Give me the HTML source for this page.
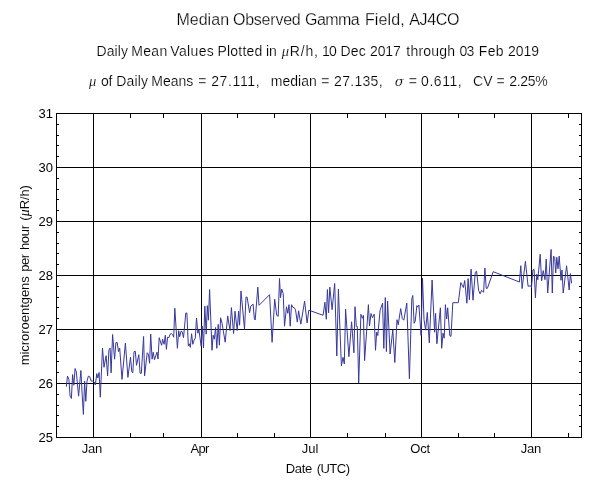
<!DOCTYPE html>
<html lang="en"><head><meta charset="utf-8"><title>Median Observed Gamma Field, AJ4CO</title>
<style>html,body{margin:0;padding:0;background:#fff;overflow:hidden}svg{display:block}text{font-family:"Liberation Sans",Arial,Helvetica,sans-serif;fill:#000;stroke:#fff;paint-order:fill stroke;stroke-width:.15px}text[font-size="16"]{stroke-width:.25px}text[font-size="14"]{stroke-width:.18px}text[font-size="13"]{stroke-width:.05px}text.n{stroke:none}</style>
</head><body>
<svg width="600" height="496" viewBox="0 0 600 496">
<rect x="0" y="0" width="600" height="496" fill="#fff"/>
<g stroke="#000" stroke-width="1" fill="none" shape-rendering="crispEdges">
<line x1="93.5" y1="113.5" x2="93.5" y2="437.5"/>
<line x1="201.5" y1="113.5" x2="201.5" y2="437.5"/>
<line x1="310.5" y1="113.5" x2="310.5" y2="437.5"/>
<line x1="421.5" y1="113.5" x2="421.5" y2="437.5"/>
<line x1="531.5" y1="113.5" x2="531.5" y2="437.5"/>
<line x1="56.5" y1="383.5" x2="581.5" y2="383.5"/>
<line x1="56.5" y1="329.5" x2="581.5" y2="329.5"/>
<line x1="56.5" y1="275.5" x2="581.5" y2="275.5"/>
<line x1="56.5" y1="221.5" x2="581.5" y2="221.5"/>
<line x1="56.5" y1="167.5" x2="581.5" y2="167.5"/>
<rect x="56.5" y="113.5" width="525.0" height="324.0"/>
<line x1="130.5" y1="437.5" x2="130.5" y2="433.0"/>
<line x1="130.5" y1="113.5" x2="130.5" y2="118.0"/>
<line x1="163.5" y1="437.5" x2="163.5" y2="433.0"/>
<line x1="163.5" y1="113.5" x2="163.5" y2="118.0"/>
<line x1="237.5" y1="437.5" x2="237.5" y2="433.0"/>
<line x1="237.5" y1="113.5" x2="237.5" y2="118.0"/>
<line x1="274.5" y1="437.5" x2="274.5" y2="433.0"/>
<line x1="274.5" y1="113.5" x2="274.5" y2="118.0"/>
<line x1="347.5" y1="437.5" x2="347.5" y2="433.0"/>
<line x1="347.5" y1="113.5" x2="347.5" y2="118.0"/>
<line x1="385.5" y1="437.5" x2="385.5" y2="433.0"/>
<line x1="385.5" y1="113.5" x2="385.5" y2="118.0"/>
<line x1="458.5" y1="437.5" x2="458.5" y2="433.0"/>
<line x1="458.5" y1="113.5" x2="458.5" y2="118.0"/>
<line x1="494.5" y1="437.5" x2="494.5" y2="433.0"/>
<line x1="494.5" y1="113.5" x2="494.5" y2="118.0"/>
<line x1="568.5" y1="437.5" x2="568.5" y2="433.0"/>
<line x1="568.5" y1="113.5" x2="568.5" y2="118.0"/>
<line x1="56.5" y1="124.5" x2="59.0" y2="124.5"/>
<line x1="581.5" y1="124.5" x2="579.0" y2="124.5"/>
<line x1="56.5" y1="135.5" x2="59.0" y2="135.5"/>
<line x1="581.5" y1="135.5" x2="579.0" y2="135.5"/>
<line x1="56.5" y1="145.5" x2="59.0" y2="145.5"/>
<line x1="581.5" y1="145.5" x2="579.0" y2="145.5"/>
<line x1="56.5" y1="156.5" x2="59.0" y2="156.5"/>
<line x1="581.5" y1="156.5" x2="579.0" y2="156.5"/>
<line x1="56.5" y1="178.5" x2="59.0" y2="178.5"/>
<line x1="581.5" y1="178.5" x2="579.0" y2="178.5"/>
<line x1="56.5" y1="189.5" x2="59.0" y2="189.5"/>
<line x1="581.5" y1="189.5" x2="579.0" y2="189.5"/>
<line x1="56.5" y1="199.5" x2="59.0" y2="199.5"/>
<line x1="581.5" y1="199.5" x2="579.0" y2="199.5"/>
<line x1="56.5" y1="210.5" x2="59.0" y2="210.5"/>
<line x1="581.5" y1="210.5" x2="579.0" y2="210.5"/>
<line x1="56.5" y1="232.5" x2="59.0" y2="232.5"/>
<line x1="581.5" y1="232.5" x2="579.0" y2="232.5"/>
<line x1="56.5" y1="243.5" x2="59.0" y2="243.5"/>
<line x1="581.5" y1="243.5" x2="579.0" y2="243.5"/>
<line x1="56.5" y1="253.5" x2="59.0" y2="253.5"/>
<line x1="581.5" y1="253.5" x2="579.0" y2="253.5"/>
<line x1="56.5" y1="264.5" x2="59.0" y2="264.5"/>
<line x1="581.5" y1="264.5" x2="579.0" y2="264.5"/>
<line x1="56.5" y1="286.5" x2="59.0" y2="286.5"/>
<line x1="581.5" y1="286.5" x2="579.0" y2="286.5"/>
<line x1="56.5" y1="297.5" x2="59.0" y2="297.5"/>
<line x1="581.5" y1="297.5" x2="579.0" y2="297.5"/>
<line x1="56.5" y1="307.5" x2="59.0" y2="307.5"/>
<line x1="581.5" y1="307.5" x2="579.0" y2="307.5"/>
<line x1="56.5" y1="318.5" x2="59.0" y2="318.5"/>
<line x1="581.5" y1="318.5" x2="579.0" y2="318.5"/>
<line x1="56.5" y1="340.5" x2="59.0" y2="340.5"/>
<line x1="581.5" y1="340.5" x2="579.0" y2="340.5"/>
<line x1="56.5" y1="351.5" x2="59.0" y2="351.5"/>
<line x1="581.5" y1="351.5" x2="579.0" y2="351.5"/>
<line x1="56.5" y1="361.5" x2="59.0" y2="361.5"/>
<line x1="581.5" y1="361.5" x2="579.0" y2="361.5"/>
<line x1="56.5" y1="372.5" x2="59.0" y2="372.5"/>
<line x1="581.5" y1="372.5" x2="579.0" y2="372.5"/>
<line x1="56.5" y1="394.5" x2="59.0" y2="394.5"/>
<line x1="581.5" y1="394.5" x2="579.0" y2="394.5"/>
<line x1="56.5" y1="405.5" x2="59.0" y2="405.5"/>
<line x1="581.5" y1="405.5" x2="579.0" y2="405.5"/>
<line x1="56.5" y1="415.5" x2="59.0" y2="415.5"/>
<line x1="581.5" y1="415.5" x2="579.0" y2="415.5"/>
<line x1="56.5" y1="426.5" x2="59.0" y2="426.5"/>
<line x1="581.5" y1="426.5" x2="579.0" y2="426.5"/>
</g>
<polyline fill="none" stroke="#38389c" stroke-width="1" stroke-linejoin="round" points="66.3,386.7 67.5,376.1 68.9,379.6 70.1,396.2 71.4,398.5 72.6,374.6 73.8,385.2 75.1,368.5 76.3,372.0 78.6,396.2 80.9,370.5 82.2,395.2 83.4,414.4 84.6,381.1 85.8,401.3 87.0,381.0 88.4,376.1 89.7,376.6 91.2,381.1 92.7,381.1 94.3,382.0 95.3,385.0 96.8,373.6 97.8,378.0 99.1,372.5 100.3,397.2 102.5,348.1 104.0,367.3 106.1,355.7 107.6,375.9 108.9,350.1 110.1,348.1 111.1,372.8 112.6,334.5 114.6,359.2 115.9,342.6 117.2,342.6 118.5,351.7 119.7,348.1 122.0,379.4 125.4,343.1 127.9,377.4 130.5,357.2 131.8,371.8 132.8,372.8 134.0,351.7 135.3,351.2 136.5,365.3 138.8,354.7 140.1,373.3 141.3,373.3 143.6,336.5 144.6,375.9 147.2,352.7 148.4,354.2 149.6,363.3 150.7,334.0 152.1,359.2 153.2,352.2 154.5,359.7 157.0,352.2 158.0,359.0 159.2,337.7 161.6,345.3 162.6,339.2 164.1,344.3 165.3,335.2 166.4,349.3 167.6,337.2 168.9,337.7 170.1,334.2 171.3,333.7 172.6,334.7 173.7,337.2 174.8,308.2 177.4,348.3 178.7,330.7 179.7,336.7 181.0,331.2 182.2,331.7 183.5,337.7 185.8,313.0 186.9,313.0 188.3,345.8 189.3,343.8 190.3,347.3 191.6,333.7 192.8,344.3 194.1,340.2 195.3,338.2 196.5,318.0 197.9,333.2 198.9,329.7 201.2,346.3 202.2,326.0 203.5,347.8 204.8,306.2 206.2,334.2 207.3,305.7 208.4,320.2 209.6,289.6 212.0,350.3 213.1,335.2 214.3,339.2 215.6,327.5 216.8,348.3 218.2,324.4 219.4,345.2 220.6,317.8 222.0,323.2 225.2,342.2 227.7,315.9 230.0,330.5 231.4,307.6 233.6,333.5 235.0,311.2 237.2,330.5 238.6,311.2 239.6,325.2 241.0,291.0 244.5,329.2 246.0,297.1 247.1,297.1 249.6,312.7 250.8,306.1 253.1,304.1 254.4,319.2 255.2,320.0 257.8,287.1 259.0,305.3 269.6,294.7 272.1,342.3 274.7,299.2 276.7,315.3 278.2,316.3 279.5,278.5 280.5,297.7 281.7,289.1 283.2,293.6 284.5,326.2 286.5,306.8 287.8,313.3 289.0,304.7 290.2,326.2 291.5,304.7 292.8,307.3 294.3,307.8 295.5,309.8 297.3,322.1 298.6,310.8 300.8,324.2 304.6,301.2 307.1,323.0 308.8,310.2 310.5,310.8 323.1,315.3 324.9,302.2 326.3,319.3 327.4,289.6 328.6,312.8 329.8,287.1 332.1,309.7 334.7,283.5 336.8,356.0 338.4,289.1 341.4,365.9 343.0,357.3 344.3,363.9 345.6,309.2 348.9,356.7 351.6,321.8 353.9,352.8 355.0,306.7 356.3,326.4 357.3,326.4 358.7,382.9 360.9,314.3 362.4,318.3 363.4,315.3 364.6,360.6 368.4,304.7 369.5,325.9 371.0,313.5 372.4,317.7 374.2,314.2 375.5,350.3 376.7,332.0 377.8,335.5 380.1,310.2 382.6,303.1 383.8,348.4 385.3,297.6 386.4,351.6 387.6,301.1 390.1,354.0 392.8,329.8 394.8,362.5 397.0,319.7 398.2,324.8 400.7,308.6 402.3,318.7 403.8,320.2 406.8,303.1 409.4,378.8 411.8,298.6 412.8,295.5 414.1,323.3 415.2,321.3 416.9,305.6 417.7,307.1 418.9,305.1 421.1,335.5 422.5,278.0 424.0,319.4 425.6,330.2 427.3,312.4 429.3,342.8 432.1,280.0 434.6,332.2 435.6,313.4 436.9,343.8 440.4,307.8 441.7,348.3 443.0,333.2 444.2,338.2 445.4,304.7 446.7,319.0 447.7,307.8 449.8,335.8 451.0,336.4 452.8,302.7 458.3,302.7 460.8,282.6 463.4,287.6 464.7,280.5 466.9,303.2 468.1,278.6 469.4,299.8 471.1,269.2 473.0,300.2 475.3,272.2 476.6,271.2 478.6,290.3 480.1,293.9 481.6,290.3 483.6,292.3 484.9,268.1 486.2,288.3 487.4,288.3 493.2,271.7 519.4,282.0 520.8,265.7 522.1,288.6 525.4,261.3 528.1,286.3 530.5,285.7 531.5,287.5 532.9,270.0 534.1,269.4 535.4,297.8 536.8,274.2 537.8,279.7 540.2,254.3 541.6,280.9 543.2,270.6 545.0,279.7 546.2,259.1 547.7,293.0 551.1,249.4 552.3,293.0 553.5,256.1 554.7,257.3 555.7,273.0 556.8,257.3 558.0,268.8 559.2,256.1 561.0,280.3 562.0,270.0 563.2,293.0 566.6,265.8 569.2,290.0 570.4,273.6 571.6,283.3"/>
<text x="52.9" y="442.0" font-size="13" text-anchor="end" class="n">25</text>
<text x="52.9" y="388.0" font-size="13" text-anchor="end" class="n">26</text>
<text x="52.9" y="334.0" font-size="13" text-anchor="end" class="n">27</text>
<text x="52.9" y="280.0" font-size="13" text-anchor="end" class="n">28</text>
<text x="52.9" y="226.0" font-size="13" text-anchor="end" class="n">29</text>
<text x="52.9" y="172.0" font-size="13" text-anchor="end" class="n">30</text>
<text x="52.9" y="118.0" font-size="13" text-anchor="end" class="n">31</text>
<text y="25" font-size="16"><tspan x="176.39" letter-spacing="0.035">Median</tspan> <tspan x="232.94" letter-spacing="-0.225">Observed</tspan> <tspan x="305.10" letter-spacing="-0.573">Gamma</tspan> <tspan x="364.89" letter-spacing="0.145">Field,</tspan> <tspan x="409.17" letter-spacing="-0.293">AJ4CO</tspan></text>
<text y="56" font-size="14"><tspan x="96.55" letter-spacing="0.090">Daily</tspan> <tspan x="131.35" letter-spacing="0.279">Mean</tspan> <tspan x="170.24" letter-spacing="0.360">Values</tspan> <tspan x="217.55" letter-spacing="0.177">Plotted</tspan> <tspan x="266.06" letter-spacing="-0.251">in</tspan> <tspan x="281.71" font-size="14.5" font-style="italic" style="font-family:'Liberation Serif',serif">μ</tspan><tspan x="289.65" letter-spacing="0.877">R/h,</tspan> <tspan x="322.10" letter-spacing="-0.900">10</tspan> <tspan x="340.55" letter-spacing="0.211">Dec</tspan> <tspan x="370.10" letter-spacing="-0.179">2017</tspan> <tspan x="406.29" letter-spacing="0.223">through</tspan> <tspan x="459.45" letter-spacing="-0.610">03</tspan> <tspan x="478.85" letter-spacing="0.306">Feb</tspan> <tspan x="508.10" letter-spacing="-0.026">2019</tspan></text>
<text y="86" font-size="14"><tspan x="89.01" font-size="14.5" font-style="italic" style="font-family:'Liberation Serif',serif">μ</tspan> <tspan x="101.11" letter-spacing="-0.308">of</tspan> <tspan x="116.35" letter-spacing="0.140">Daily</tspan> <tspan x="151.35" letter-spacing="-0.017">Means</tspan> <tspan x="198.37">=</tspan> <tspan x="211.20" letter-spacing="0.622">27.111,</tspan> <tspan x="270.77" letter-spacing="0.004">median</tspan> <tspan x="321.37">=</tspan> <tspan x="334.10" letter-spacing="0.292">27.135,</tspan> <tspan x="394.64" font-size="13.4" font-style="italic" style="font-family:'DejaVu Serif','Liberation Serif',serif">σ</tspan> <tspan x="408.77">=</tspan> <tspan x="421.05" letter-spacing="0.564">0.611,</tspan> <tspan x="473.09" letter-spacing="0.024">CV</tspan> <tspan x="496.47">=</tspan> <tspan x="509.30" letter-spacing="-0.323">2.25%</tspan></text>
<text y="453" font-size="13"><tspan x="81.70" letter-spacing="-0.206">Jan</tspan> <tspan x="190.47" letter-spacing="-0.694">Apr</tspan> <tspan x="301.80" letter-spacing="-0.023">Jul</tspan> <tspan x="410.18" letter-spacing="-0.156">Oct</tspan> <tspan x="520.80" letter-spacing="-0.306">Jan</tspan></text>
<text y="473" font-size="13"><tspan x="285.63" letter-spacing="-0.272">Date</tspan> <tspan x="316.69" letter-spacing="-0.516">(UTC)</tspan></text>
<g transform="translate(29,364.4) rotate(-90)"><text y="0" font-size="13"><tspan x="-0.86" letter-spacing="-0.043">microroentgens</tspan> <tspan x="92.76" letter-spacing="-0.568">per</tspan> <tspan x="114.30" letter-spacing="-0.267">hour</tspan> <tspan x="143.57">(</tspan><tspan x="148.11" font-size="13.8" font-style="italic" style="font-family:'Liberation Serif',serif">μ</tspan><tspan x="155.13" letter-spacing="-0.162">R/h)</tspan></text></g>
</svg></body></html>
